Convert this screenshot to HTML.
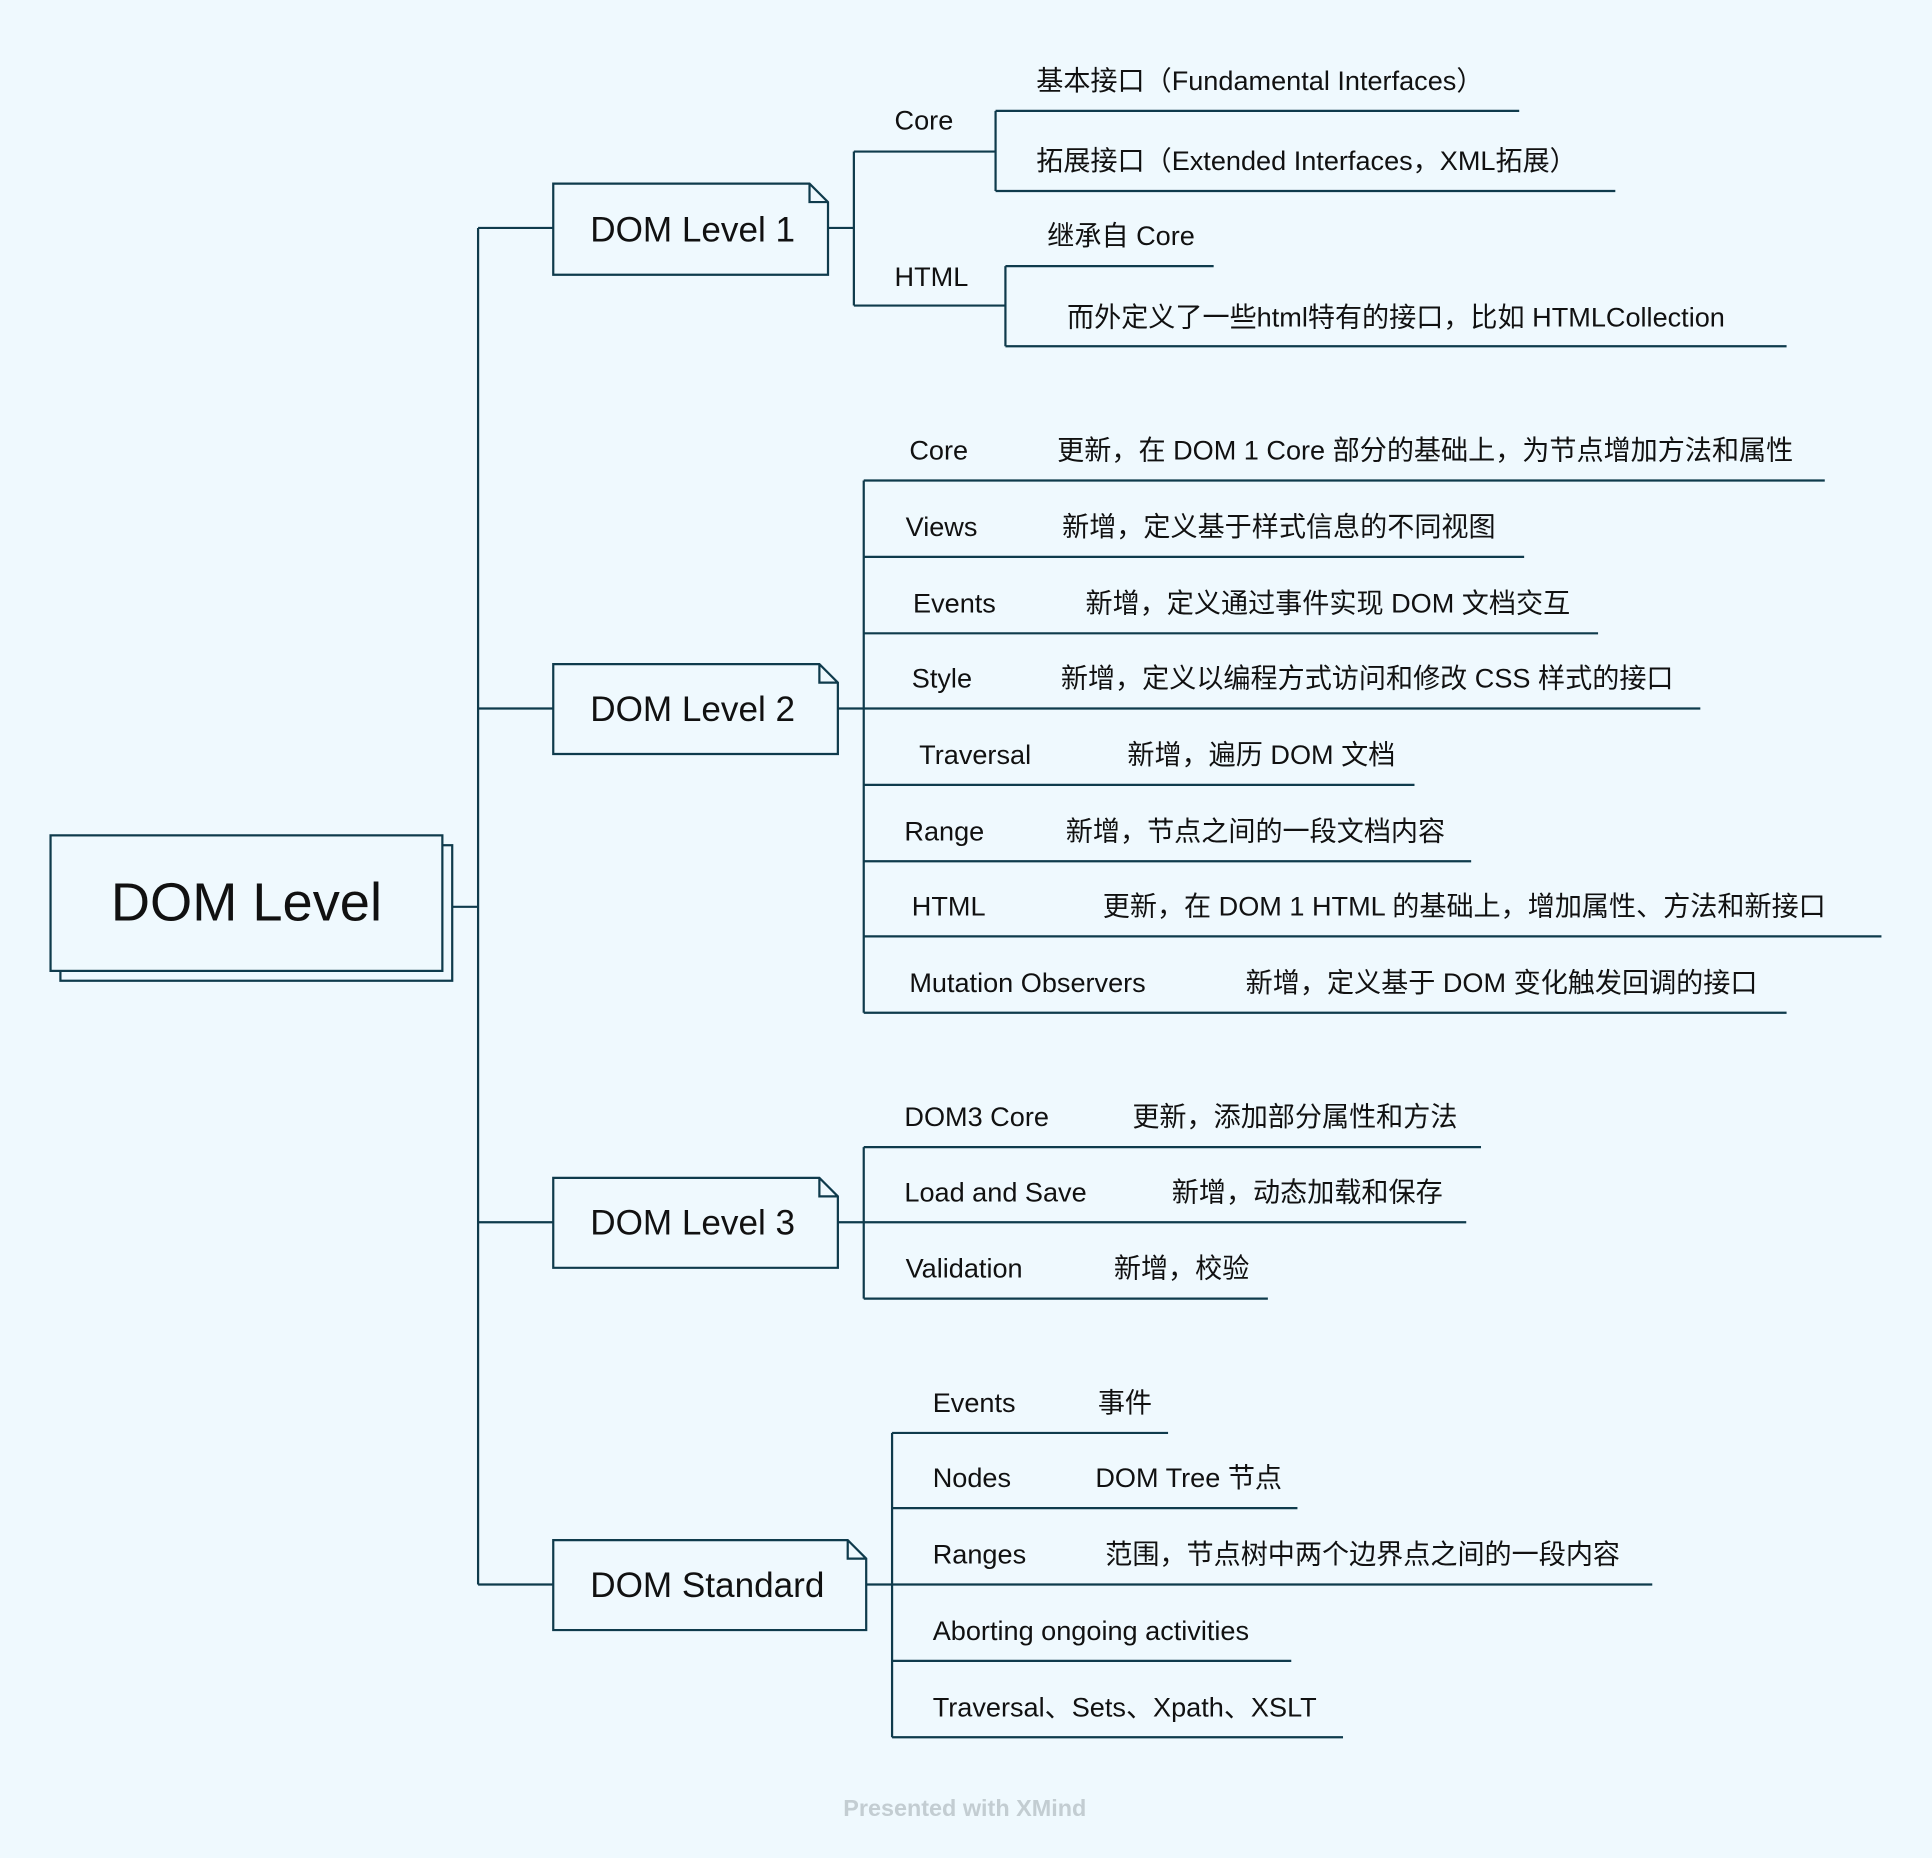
<!DOCTYPE html>
<html><head><meta charset="utf-8"><style>
html,body{margin:0;padding:0;background:#eff9fe;}
svg{display:block}
text{font-family:"Liberation Sans","Noto Sans CJK SC",sans-serif;fill:#111;}
.s{font-size:22px}
.m{font-size:28.5px}
</style></head><body>
<svg width="1932" height="1858" viewBox="0 0 1568 1508" xmlns="http://www.w3.org/2000/svg">
<rect width="1568" height="1508" fill="#eff9fe"/>
<g stroke="#0f3b4c" stroke-width="1.8" fill="none">
<rect x="49" y="686" width="318" height="110" fill="#eff9fe"/>
<rect x="41" y="678" width="318" height="110" fill="#eff9fe"/>
<path d="M367 736H388M388 185V1286M388 185H449M388 575H449M388 992H449M388 1286H449"/>
<path d="M449 149H657L672 164V223H449Z M657 149V164H672"/>
<path d="M449 539H665L680 554V612H449Z M665 539V554H680"/>
<path d="M449 956H665L680 971V1029H449Z M665 956V971H680"/>
<path d="M449 1250H688L703 1265V1323H449Z M688 1250V1265H703"/>
<path d="M672 185H693M693 123V248M693 123H808M808 90V155M808 90H1233M808 155H1311M693 248H816M816 216V281M816 216H985M816 281H1450"/>
<path d="M680 575H701M701 390V822M701 390H1481M701 452H1237M701 514H1297M701 575H1380M701 637H1148M701 699H1194M701 760H1527M701 822H1450"/>
<path d="M680 992H701M701 931V1054M701 931H1202M701 992H1190M701 1054H1029"/>
<path d="M703 1286H724M724 1163V1410M724 1163H948M724 1224H1053M724 1286H1341M724 1348H1048M724 1410H1090"/>
</g>
<text x="200" y="747" text-anchor="middle" style="font-size:44px">DOM Level</text>
<text class="m" x="479" y="196">DOM Level 1</text>
<text class="m" x="479" y="585">DOM Level 2</text>
<text class="m" x="479" y="1002">DOM Level 3</text>
<text class="m" x="479" y="1296">DOM Standard</text>

<g class="s">
<text class="s" x="726" y="105">Core</text>
<text class="s" x="841" y="73">基本接口（Fundamental Interfaces）</text>
<text class="s" x="841" y="138">拓展接口（Extended Interfaces，XML拓展）</text>
<text class="s" x="726" y="232">HTML</text>
<text class="s" x="850" y="199">继承自 Core</text>
<text class="s" x="866" y="265">而外定义了一些html特有的接口，比如 HTMLCollection</text>

<text class="s" x="738" y="373">Core</text><text class="s" x="858" y="373">更新，在 DOM 1 Core 部分的基础上，为节点增加方法和属性</text>
<text class="s" x="735" y="435">Views</text><text class="s" x="862" y="435">新增，定义基于样式信息的不同视图</text>
<text class="s" x="741" y="497">Events</text><text class="s" x="881" y="497">新增，定义通过事件实现 DOM 文档交互</text>
<text class="s" x="740" y="558">Style</text><text class="s" x="861" y="558">新增，定义以编程方式访问和修改 CSS 样式的接口</text>
<text class="s" x="746" y="620">Traversal</text><text class="s" x="915" y="620">新增，遍历 DOM 文档</text>
<text class="s" x="734" y="682">Range</text><text class="s" x="865" y="682">新增，节点之间的一段文档内容</text>
<text class="s" x="740" y="743">HTML</text><text class="s" x="895" y="743">更新，在 DOM 1 HTML 的基础上，增加属性、方法和新接口</text>
<text class="s" x="738" y="805">Mutation Observers</text><text class="s" x="1011" y="805">新增，定义基于 DOM 变化触发回调的接口</text>

<text class="s" x="734" y="914">DOM3 Core</text><text class="s" x="919" y="914">更新，添加部分属性和方法</text>
<text class="s" x="734" y="975">Load and Save</text><text class="s" x="951" y="975">新增，动态加载和保存</text>
<text class="s" x="735" y="1037">Validation</text><text class="s" x="904" y="1037">新增，校验</text>

<text class="s" x="757" y="1146">Events</text><text class="s" x="891" y="1146">事件</text>
<text class="s" x="757" y="1207">Nodes</text><text class="s" x="889" y="1207">DOM Tree 节点</text>
<text class="s" x="757" y="1269">Ranges</text><text class="s" x="897" y="1269">范围，节点树中两个边界点之间的一段内容</text>
<text class="s" x="757" y="1331">Aborting ongoing activities</text>
<text class="s" x="757" y="1393">Traversal、Sets、Xpath、XSLT</text>
</g>
<text x="783" y="1474" text-anchor="middle" style="font-size:19px;font-weight:bold;fill:#c3cdd2">Presented with XMind</text>
</svg>
</body></html>
